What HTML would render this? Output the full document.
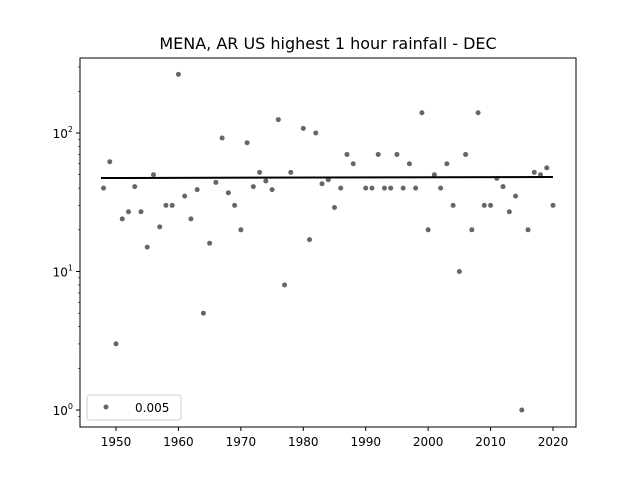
<!DOCTYPE html>
<html><head><meta charset="utf-8"><style>
body{margin:0;background:#fff}
svg text{font-family:"DejaVu Sans","Liberation Sans",sans-serif;fill:#000}
</style></head><body>
<svg id="s" width="640" height="480" xmlns="http://www.w3.org/2000/svg">
<rect width="640" height="480" fill="#fff"/>
<text x="328" y="49" font-size="16" text-anchor="middle">MENA, AR US highest 1 hour rainfall - DEC</text>
<g id="g"></g>
<rect x="80" y="58" width="496" height="369" fill="none" stroke="#000" stroke-width="1"/>
<line x1="101" y1="178" x2="553" y2="177" stroke="#000" stroke-width="2"/>
<rect x="87" y="395" width="94" height="25" rx="3" fill="#fff" stroke="#ccc"/>
<circle cx="106" cy="407" r="2.5" fill="#555" fill-opacity="0.9"/>
<text x="135" y="412" font-size="12">0.005</text>
</svg>
<script>
var g=document.getElementById('g'),h='';
function X(y){return 116+(y-1950)*6.243}
function Y(v){return 410-138.5*Math.log10(v)}
for(var yr=1950;yr<=2020;yr+=10){var x=X(yr);h+='<line x1="'+x+'" y1="427" x2="'+x+'" y2="431" stroke="#000"/><text x="'+x+'" y="446" font-size="12" text-anchor="middle">'+yr+'</text>';}
var labs=[[1,'10<tspan font-size="8" dy="-6">0</tspan>'],[10,'10<tspan font-size="8" dy="-6">1</tspan>'],[100,'10<tspan font-size="8" dy="-6">2</tspan>']];
labs.forEach(function(l){var y=Y(l[0]);h+='<line x1="76" y1="'+y+'" x2="80" y2="'+y+'" stroke="#000"/><text x="73" y="'+(y+5)+'" font-size="12" text-anchor="end">'+l[1]+'</text>';});
[0.9,2,3,4,5,6,7,8,9,20,30,40,50,60,70,80,90,200,300].forEach(function(v){var y=Y(v);if(y>58&&y<427)h+='<line x1="78" y1="'+y+'" x2="80" y2="'+y+'" stroke="#000" stroke-width="0.6"/>';});
var d={1948:40,1949:62,1950:3,1951:24,1952:27,1953:41,1954:27,1955:15,1956:50,1957:21,1958:30,1959:30,1960:265,1961:35,1962:24,1963:39,1964:5,1965:16,1966:44,1967:92,1968:37,1969:30,1970:20,1971:85,1972:41,1973:52,1974:45,1975:39,1976:125,1977:8,1978:52,1980:108,1981:17,1982:100,1983:43,1984:46,1985:29,1986:40,1987:70,1988:60,1990:40,1991:40,1992:70,1993:40,1994:40,1995:70,1996:40,1997:60,1998:40,1999:140,2000:20,2001:50,2002:40,2003:60,2004:30,2005:10,2006:70,2007:20,2008:140,2009:30,2010:30,2011:47,2012:41,2013:27,2014:35,2015:1,2016:20,2017:52,2018:50,2019:56,2020:30};
for(var k in d){h+='<circle cx="'+X(+k)+'" cy="'+Y(d[k])+'" r="2.5" fill="#555" fill-opacity="0.9"/>';}
g.innerHTML=h;
</script>
</body></html>
